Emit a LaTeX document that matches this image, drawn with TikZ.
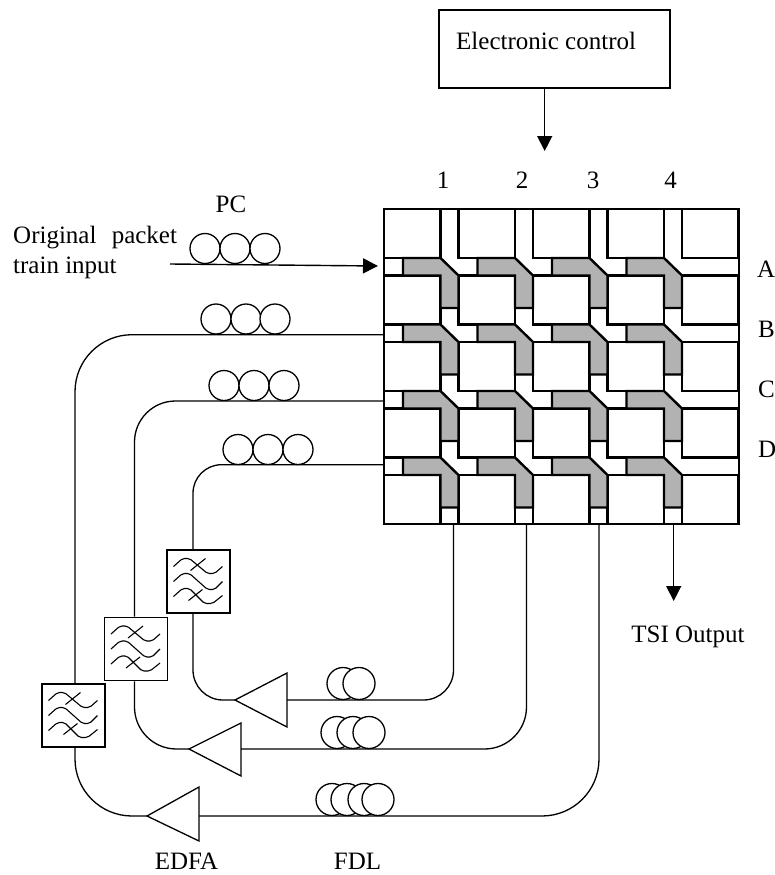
\documentclass[tikz,border=0pt]{standalone}
\usepackage{fontspec}
\setmainfont{Liberation Serif}
\usetikzlibrary{arrows.meta,calc}
\tikzset{
  blk/.style={draw,line width=2.4,fill=white},
  sw/.style={draw,line width=2.4,fill=black!30,line join=miter},
  fib/.style={draw,line width=1.3},
  coil/.style={draw,circle,line width=1.3,minimum size=30,inner sep=0,fill=white},
  fdl/.style={draw,circle,line width=1.3,minimum size=32,inner sep=0,fill=white},
  amp/.style={draw,line width=1.3,fill=white},
  lab/.style={font=\fontsize{25}{28}\selectfont,inner sep=0,anchor=base},
  flt/.style={draw,line width=1.6,fill=white,minimum size=63,inner sep=0},
  arr/.style={line width=1.4,-{Stealth[length=15,width=15,inset=0]}},
  wave/.style={line width=1.1,rounded corners=2}
}
\newcommand{\filt}[3]{%
  \node[flt] (#3) at (#1,#2) {};
  \begin{scope}[shift={(#1,#2)}]
    \draw[wave] (-25,-15) -- (-16,-23) -- (-9,-23) -- (9,-8) -- (16,-8) -- (24,-15);
    \draw[wave] (-8,-11) -- (7,-23);
    \draw[wave] (-25,0) -- (-16,-8) -- (-9,-8) -- (9,8) -- (16,8) -- (24,0);
    \draw[wave] (-25,15) -- (-16,7) -- (-9,7) -- (6,22) -- (14,22) -- (24,14);
    \draw[wave] (-10,19) -- (4,8);
  \end{scope}}
\begin{document}
\begin{tikzpicture}[x=1pt,y=-1pt,line cap=butt]
\useasboundingbox (0,0) rectangle (775,875);
% electronic control
\node[draw,line width=1.6,minimum width=231,minimum height=78,inner sep=0] (ctrl) at (554.5,49) {};
\node[lab,anchor=base west] (ctrltxt) at (456,50) {Electronic control};
\coordinate (ctrlend) at (544.7,151);
\draw[arr] (ctrl.south -| ctrlend) -- (ctrlend);
% switch fabric
\draw[line width=2.4] (384,209) rectangle (739,524);
\foreach \r/\yt in {1/209,2/275.5,3/342,4/408.5,5/475}{
  \foreach \c/\xl in {1/384,2/458.5,3/533,4/607.5,5/682}{
    \pgfmathsetmacro{\xr}{\xl+56.5}
    \pgfmathsetmacro{\yb}{\yt+49}
    \draw[blk] (\xl,\yt) rectangle (\xr,\yb);
  }
}
\foreach \yt in {258,324.5,391,457.5}{
  \foreach \xl in {403,477.5,552,626.5}{
    \draw[sw] (\xl,\yt) -- ++(37.5,0) -- ++(18,17.5) -- ++(0,32.5) -- ++(-18,0) -- ++(0,-32.5) -- ++(-37.5,0) -- cycle;
  }
}
\coordinate (inA) at (378,266);
\coordinate (inB) at (384,334.7);
\coordinate (inC) at (384,401);
\coordinate (inD) at (384,464.7);
\coordinate (o1) at (453.5,524);
\coordinate (o2) at (526.5,524);
\coordinate (o3) at (599,524);
\coordinate (o4) at (673.7,524);
\coordinate (tsiend) at (673.7,601);
\draw[arr] (o4) -- (tsiend);
% labels
\node[lab] (n1) at (443,188) {1};
\node[lab] (n2) at (522,188) {2};
\node[lab] (n3) at (593,188) {3};
\node[lab] (n4) at (670.5,188) {4};
\node[lab,anchor=base west] (la) at (757,277) {A};
\node[lab,anchor=base west] (lb) at (758,337) {B};
\node[lab,anchor=base west] (lc) at (758,397) {C};
\node[lab,anchor=base west] (ld) at (758,457) {D};
\node[lab] (pc) at (231,212) {PC};
\node[lab,anchor=base west] (tr1) at (13,243) {Original\hspace{9pt} packet};
\node[lab,anchor=base west] (tr2) at (13,273) {train input};
\node[lab] (tsi) at (688,642) {TSI Output};
\node[lab] (edfa) at (186.5,869.5) {EDFA};
\node[lab] (fdl) at (357.5,869.5) {FDL};
% input
\coordinate (instart) at (170,264);
\foreach \x in {205,235,265}{\node[coil] (pca\x) at (\x,248.5) {};}
\draw[arr] (instart) -- (inA);
% amplifiers
\coordinate (a1) at (235,700); \coordinate (a1r) at (287,700);
\coordinate (a2) at (189,749); \coordinate (a2r) at (241,749);
\coordinate (a3) at (147,816); \coordinate (a3r) at (199,816);
\draw[amp] (a1) -- (287,673) -- (287,727) -- cycle;
\draw[amp] (a2) -- (241,723) -- (241,776) -- cycle;
\draw[amp] (a3) -- (199,787) -- (199,841) -- cycle;
% PCs on loops
\foreach \x in {216,246,275}{\node[coil] (pcb\x) at (\x,319) {};}
\foreach \x in {224,254,284}{\node[coil] (pcc\x) at (\x,385.5) {};}
\foreach \x in {238,268,298}{\node[coil] (pcd\x) at (\x,449.5) {};}
% FDL coils
\foreach \x in {343,359}{\node[fdl] (da\x) at (\x,683.5) {};}
\foreach \x in {337,353,369}{\node[fdl] (db\x) at (\x,732.5) {};}
\foreach \x in {332,347,364,378}{\node[fdl] (dc\x) at (\x,799.5) {};}
% filters
\filt{198.5}{581.5}{f1}
\filt{136}{649}{f2}
\filt{73.5}{715.5}{f3}
% loops
\coordinate (l1) at (75,560);
\coordinate (l2) at (134.5,560);
\coordinate (l3) at (193,560);
\draw[fib,rounded corners=57] (inB) -- (l1 |- inB) -- (l1 |- f3.north);
\draw[fib,rounded corners=41] (inC) -- (l2 |- inC) -- (l2 |- f2.north);
\draw[fib,rounded corners=28.5] (inD) -- (l3 |- inD) -- (l3 |- f1.north);
\draw[fib,rounded corners=30] (l3 |- f1.south) -- (l3 |- a1) -- (a1);
\draw[fib,rounded corners=42] (l2 |- f2.south) -- (l2 |- a2) -- (a2);
\draw[fib,rounded corners=57] (l1 |- f3.south) -- (l1 |- a3) -- (a3);
\draw[fib,rounded corners=30] (o1) -- (o1 |- a1r) -- (a1r);
\draw[fib,rounded corners=42] (o2) -- (o2 |- a2r) -- (a2r);
\draw[fib,rounded corners=57] (o3) -- (o3 |- a3r) -- (a3r);
\end{tikzpicture}
\end{document}
